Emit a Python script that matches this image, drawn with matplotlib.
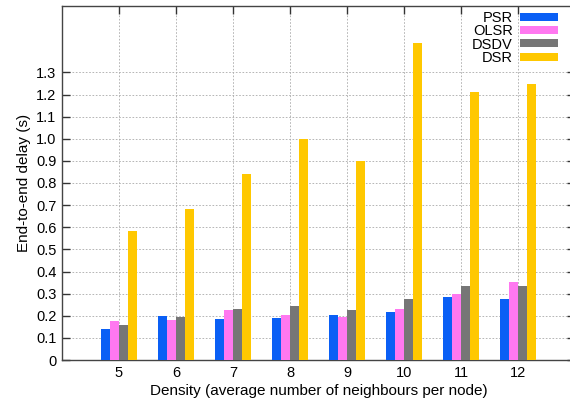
import numpy as np
import matplotlib
matplotlib.use("Agg")
import matplotlib.pyplot as plt
from matplotlib.patches import Patch

plt.rcParams['font.family'] = ['Liberation Sans', 'DejaVu Sans']

densities = [5, 6, 7, 8, 9, 10, 11, 12]
psr = [0.139, 0.200, 0.187, 0.190, 0.202, 0.217, 0.286, 0.275]
olsr = [0.177, 0.179, 0.227, 0.203, 0.196, 0.232, 0.299, 0.352]
dsdv = [0.157, 0.196, 0.230, 0.245, 0.227, 0.277, 0.333, 0.334]
dsr = [0.582, 0.683, 0.840, 1.000, 0.900, 1.432, 1.210, 1.249]

series_names = ["PSR", "OLSR", "DSDV", "DSR"]
series_colors = ["#0a5ff5", "#ff78f0", "#767676", "#ffc800"]
y_ticks = [0, 0.1, 0.2, 0.3, 0.4, 0.5, 0.6, 0.7, 0.8, 0.9, 1.0, 1.1, 1.2, 1.3]
y_tick_labels = ["0", "0.1", "0.2", "0.3", "0.4", "0.5", "0.6", "0.7",
                 "0.8", "0.9", "1.0", "1.1", "1.2", "1.3"]

fig = plt.figure(figsize=(5.7, 4.05), dpi=100)
ax = fig.add_axes([62 / 570, 45 / 405, (575 - 62) / 570, (360 - 6) / 405])

x = np.arange(len(densities)) + densities[0]
w = 0.155
offsets = [-1.5, -0.5, 0.5, 1.5]
for vals, name, col, off in zip([psr, olsr, dsdv, dsr], series_names,
                                series_colors, offsets):
    ax.bar(x + off * w, vals, width=w, color=col, edgecolor='none',
           label=name, zorder=3)

ax.set_xlim(4, 13)
ax.set_ylim(0, 1.6)
ax.set_xticks(x)
ax.set_xticklabels([str(d) for d in densities])
ax.set_yticks(y_ticks)
ax.set_yticklabels(y_tick_labels)

ax.grid(True, color='#aaaaaa', linestyle=(0, (2, 2)), linewidth=0.6, zorder=0)
ax.tick_params(direction='in', length=6, width=1.0, color='#333333',
               top=True, right=True, labelsize=10.5, pad=4)
for s in ax.spines.values():
    s.set_color('#444444')
    s.set_linewidth(1.0)

ax.set_xlabel("Density (average number of neighbours per node)", fontsize=11, labelpad=3)
ax.set_ylabel("End-to-end delay (s)", fontsize=11, labelpad=4)

handles = [Patch(facecolor=c, edgecolor='none') for c in series_colors]
leg = ax.legend(handles, series_names, loc='upper right',
                bbox_to_anchor=(558 / 570, 1 - 11 / 405),
                bbox_transform=fig.transFigure,
                frameon=False, markerfirst=False, fontsize=10.5,
                handlelength=2.6, handleheight=0.45, handletextpad=0.5,
                labelspacing=-0.05, borderaxespad=0.0, borderpad=0.0)

fig.savefig("out.png", dpi=100)
